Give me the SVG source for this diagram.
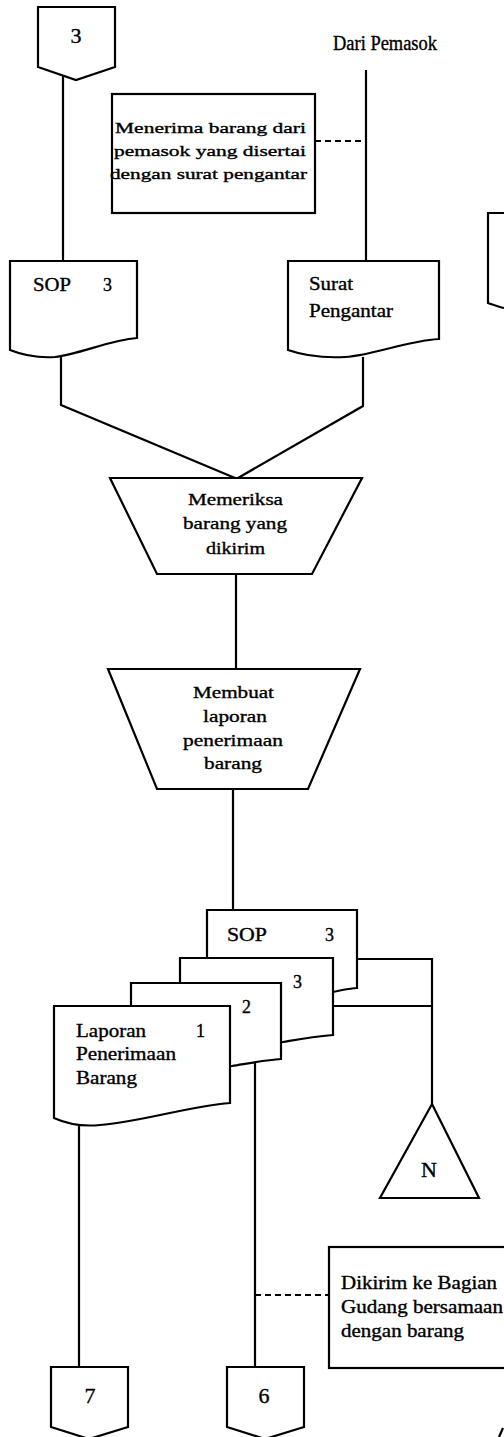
<svg xmlns="http://www.w3.org/2000/svg" width="504" height="1437" viewBox="0 0 504 1437">
<style>
.s{fill:#fff;stroke:#000;stroke-width:2.2;stroke-linejoin:miter}
.c{fill:none;stroke:#000;stroke-width:2.2}
.d{fill:none;stroke:#000;stroke-width:2;stroke-dasharray:6,4}
text{font-family:"Liberation Serif","Times New Roman",serif;fill:#000;stroke:#000;stroke-width:0.35}
.t{font-size:17px}
.n{font-size:15px}
.m{font-size:18px}
.h{font-size:20px}
.big{font-size:22px}
.ctr{text-anchor:middle}
</style>
<rect width="504" height="1437" fill="#fff"/>
<g id="connectors">
<path class="c" d="M63,70 V261"/>
<path class="c" d="M366,70 V261"/>
<path class="d" d="M315,141 H366"/>
<path class="c" d="M61,356 V405 L235,478"/>
<path class="c" d="M363,357 V406 L238,478"/>
<path class="c" d="M236,574 V669"/>
<path class="c" d="M233,789 V910"/>
<path class="c" d="M357,959 H432 V1104"/>
<path class="c" d="M333,1006 H432"/>
<path class="c" d="M79,1124 V1367"/>
<path class="c" d="M255,1055 V1367"/>
<path class="d" d="M255,1295 H329"/>
</g>
<g id="conn3">
<path class="s" d="M38,7 H115 V67 L76,80 L38,67 Z"/>
<text class="big ctr" x="76" y="43">3</text>
</g>
<g id="dari">
<text class="h" x="333" y="50" textLength="104" lengthAdjust="spacingAndGlyphs">Dari Pemasok</text>
</g>
<g id="note1">
<rect class="s" x="112" y="94" width="203" height="119"/>
<text class="n" x="115" y="133" textLength="191" lengthAdjust="spacingAndGlyphs">Menerima barang dari</text>
<text class="n" x="114" y="156" textLength="192" lengthAdjust="spacingAndGlyphs">pemasok yang disertai</text>
<text class="n" x="110" y="179" textLength="197" lengthAdjust="spacingAndGlyphs">dengan surat pengantar</text>
</g>
<g id="partial-doc">
<path class="c" d="M504,213 H488 V303 C494,305 499,307 504,308"/>
</g>
<g id="sop-doc">
<path class="s" d="M10,261 H137 V338 C110,340 80,354 55,357 C40,358 25,356 10,350 Z"/>
<text class="m" x="33" y="291" textLength="38" lengthAdjust="spacingAndGlyphs">SOP</text>
<text class="m" x="103" y="291">3</text>
</g>
<g id="surat-doc">
<path class="s" d="M288,261 H439 V339 C405,341 375,355 345,357 C325,358 305,356 288,350 Z"/>
<text class="m" x="309" y="290" textLength="44" lengthAdjust="spacingAndGlyphs">Surat</text>
<text class="m" x="309" y="317" textLength="84" lengthAdjust="spacingAndGlyphs">Pengantar</text>
</g>
<g id="memeriksa">
<path class="s" d="M110,478 H362 L312,574 H157 Z"/>
<text class="t" x="188" y="505" textLength="95" lengthAdjust="spacingAndGlyphs">Memeriksa</text>
<text class="t" x="183" y="529" textLength="104" lengthAdjust="spacingAndGlyphs">barang yang</text>
<text class="t" x="206" y="554" textLength="59" lengthAdjust="spacingAndGlyphs">dikirim</text>
</g>
<g id="membuat">
<path class="s" d="M108,669 H360 L308,789 H157 Z"/>
<text class="t" x="193" y="698" textLength="81" lengthAdjust="spacingAndGlyphs">Membuat</text>
<text class="t" x="203" y="722" textLength="64" lengthAdjust="spacingAndGlyphs">laporan</text>
<text class="t" x="183" y="746" textLength="100" lengthAdjust="spacingAndGlyphs">penerimaan</text>
<text class="t" x="204" y="769" textLength="58" lengthAdjust="spacingAndGlyphs">barang</text>
</g>
<g id="doc-sop3">
<path class="s" d="M207,910 H357 V988 C335,989 310,1000 282,1003 C260,1005 230,1000 207,995 Z"/>
<text class="m" x="227" y="941" textLength="40" lengthAdjust="spacingAndGlyphs">SOP</text>
<text class="m" x="325" y="941">3</text>
</g>
<g id="doc-3">
<path class="s" d="M180,958 H333 V1035 C310,1037 295,1040 283,1042 C260,1046 220,1050 180,1045 Z"/>
<text class="m" x="293" y="988">3</text>
</g>
<g id="doc-2">
<path class="s" d="M131,983 H281 V1059 C265,1060 245,1064 232,1066 C200,1070 160,1068 131,1062 Z"/>
<text class="m" x="242" y="1013">2</text>
</g>
<g id="doc-laporan">
<path class="s" d="M54,1006 H230 V1103 C190,1106 140,1122 100,1125 C80,1127 65,1123 54,1118 Z"/>
<text class="m" x="76" y="1037" textLength="70" lengthAdjust="spacingAndGlyphs">Laporan</text>
<text class="m" x="196" y="1037">1</text>
<text class="m" x="76" y="1060" textLength="100" lengthAdjust="spacingAndGlyphs">Penerimaan</text>
<text class="m" x="76" y="1084" textLength="61" lengthAdjust="spacingAndGlyphs">Barang</text>
</g>
<g id="connN">
<path class="s" d="M432,1104 L479,1198 H380 Z"/>
<text class="big ctr" x="429" y="1177">N</text>
</g>
<g id="note2">
<rect class="s" x="329" y="1247" width="180" height="121"/>
<text class="m" x="341" y="1289" textLength="156" lengthAdjust="spacingAndGlyphs">Dikirim ke Bagian</text>
<text class="m" x="341" y="1313" textLength="162" lengthAdjust="spacingAndGlyphs">Gudang bersamaan</text>
<text class="m" x="341" y="1337" textLength="123" lengthAdjust="spacingAndGlyphs">dengan barang</text>
</g>
<g id="conn7">
<path class="s" d="M51,1367 H128 V1427 L89,1439 L51,1427 Z"/>
<text class="big ctr" x="90" y="1403">7</text>
</g>
<g id="conn6">
<path class="s" d="M227,1367 H304 V1427 L265,1439 L227,1427 Z"/>
<text class="big ctr" x="264" y="1403">6</text>
</g>
<g id="corner-mark">
<path class="c" d="M499,1437 L503,1428"/>
</g>
</svg>
